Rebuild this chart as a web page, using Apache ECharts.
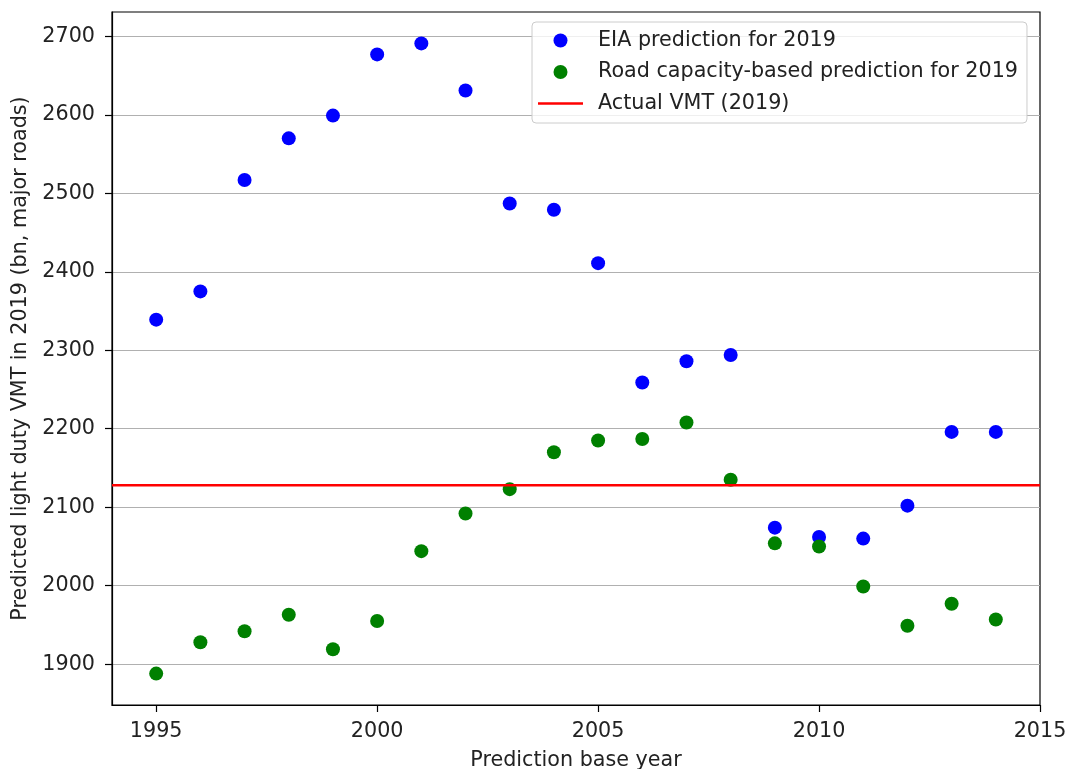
<!DOCTYPE html>
<html>
<head>
<meta charset="utf-8">
<script src="https://cdn.jsdelivr.net/npm/echarts@6/dist/echarts.min.js"></script>
<style>
html,body{margin:0;padding:0;background:#fff;}
#chart{width:1066px;height:769px;}
</style>
</head>
<body>
<div id="chart"></div>
<script>
const years = [1995,1996,1997,1998,1999,2000,2001,2002,2003,2004,2005,2006,2007,2008,2009,2010,2011,2012,2013,2014];
const eiaPrediction = [2339,2375,2517,2570,2599,2677,2691,2631,2487,2479,2411,2259,2286,2294,2074,2062,2060,2102,2196,2196];
const roadPrediction = [1888,1928,1942,1963,1919,1955,2044,2092,2123,2170,2185,2187,2208,2135,2054,2050,1999,1949,1977,1957];
const actualVMT = 2128;
const xTicks = [1995,2000,2005,2010,2015];
const yTicks = [1900,2000,2100,2200,2300,2400,2500,2600,2700];
const xRange = [1994, 2015];
const yRange = [1848, 2731];
const seriesNames = ['EIA prediction for 2019','Road capacity-based prediction for 2019','Actual VMT (2019)'];

const FONT = 'DejaVu Sans';
const FS = 20.7;
const TXT = '#222';

const chart = echarts.init(document.getElementById('chart'), null, {renderer:'canvas'});
chart.setOption({
  animation:false,
  backgroundColor:'#fff',
  grid:{left:112, right:26, top:12, bottom:64, show:true, borderColor:'#000', borderWidth:1.2,
        backgroundColor:'transparent', containLabel:false, outerBoundsMode:'none'},
  legend:{
    data:[
      {name:seriesNames[0], icon:'circle'},
      {name:seriesNames[1], icon:'circle'},
      {name:seriesNames[2], icon:'path://M0,0L45,0L45,2.4L0,2.4Z'}
    ],
    orient:'vertical',
    left:532, top:22,
    padding:[8,9,9,6],
    itemWidth:45, itemHeight:14, itemGap:10.5,
    backgroundColor:'rgba(255,255,255,0.8)',
    borderColor:'#cccccc', borderWidth:1, borderRadius:4,
    textStyle:{fontFamily:FONT, fontSize:FS, color:TXT, lineHeight:21, padding:[0,0,0,10]}
  },
  xAxis:{
    type:'value', min:xRange[0], max:xRange[1],
    name:'Prediction base year', nameLocation:'middle', nameGap:45,
    nameTextStyle:{fontFamily:FONT, fontSize:FS, color:TXT},
    axisLine:{show:true, onZero:false, lineStyle:{color:'#000', width:1.2}},
    axisTick:{show:true, length:7, customValues:xTicks, lineStyle:{color:'#000', width:1.2}},
    axisLabel:{customValues:xTicks, margin:16, fontFamily:FONT, fontSize:FS, color:TXT,
               formatter:v=>String(v)},
    splitLine:{show:false}
  },
  yAxis:{
    type:'value', min:yRange[0], max:yRange[1],
    name:'Predicted light duty VMT in 2019 (bn, major roads)', nameLocation:'middle', nameGap:70,
    nameTextStyle:{fontFamily:FONT, fontSize:FS, color:TXT},
    axisLine:{show:true, onZero:false, lineStyle:{color:'#000', width:1.2}},
    axisTick:{show:true, length:7, customValues:yTicks, lineStyle:{color:'#000', width:1.2}},
    axisLabel:{customValues:yTicks, margin:17, fontFamily:FONT, fontSize:FS, color:TXT,
               formatter:v=>String(v)},
    splitLine:{show:true, lineStyle:{color:'#b0b0b0', width:1.2}}
  },
  series:[
    {
      name:seriesNames[0], type:'scatter', symbol:'circle', symbolSize:14,
      itemStyle:{color:'#0000ff', opacity:1},
      data:years.map((y,i)=>[y, eiaPrediction[i]]), z:2
    },
    {
      name:seriesNames[1], type:'scatter', symbol:'circle', symbolSize:14,
      itemStyle:{color:'#008000', opacity:1},
      data:years.map((y,i)=>[y, roadPrediction[i]]), z:3
    },
    {
      name:seriesNames[2], type:'line', symbol:'none', showSymbol:false,
      lineStyle:{color:'#ff0000', width:2.5}, itemStyle:{color:'#ff0000'},
      data:[[xRange[0], actualVMT],[xRange[1], actualVMT]], z:4
    }
  ]
});
</script>
</body>
</html>
